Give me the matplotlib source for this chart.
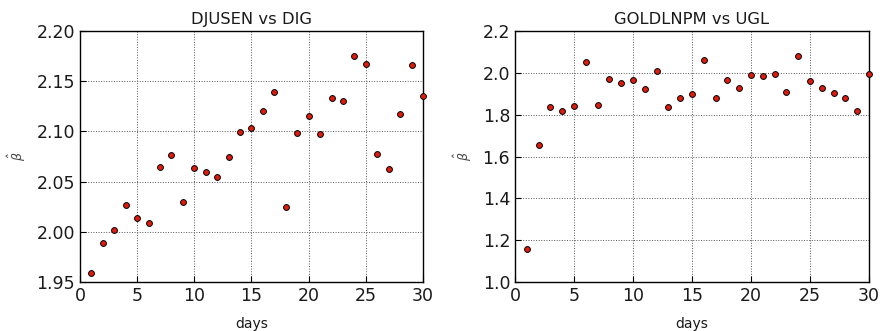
import matplotlib
matplotlib.use('Agg')
import matplotlib.pyplot as plt

days = list(range(1, 31))

# DJUSEN vs DIG
beta_djusen = [1.959, 1.989, 2.002, 2.027, 2.014, 2.009, 2.065, 2.077, 2.030, 2.064,
               2.060, 2.055, 2.075, 2.099, 2.103, 2.120, 2.139, 2.025, 2.098, 2.115,
               2.097, 2.133, 2.130, 2.175, 2.167, 2.078, 2.063, 2.117, 2.166, 2.135]

# GOLDLNPM vs UGL
beta_gold = [1.160, 1.654, 1.835, 1.817, 1.843, 2.052, 1.849, 1.970, 1.953, 1.964,
             1.921, 2.007, 1.839, 1.881, 1.900, 2.063, 1.882, 1.964, 1.927, 1.991,
             1.983, 1.997, 1.910, 2.079, 1.962, 1.926, 1.903, 1.882, 1.817, 1.997]

titles = ['DJUSEN vs DIG', 'GOLDLNPM vs UGL']
ylims = [(1.95, 2.20), (1.0, 2.2)]
yticks = [[1.95, 2.00, 2.05, 2.10, 2.15, 2.20], [1.0, 1.2, 1.4, 1.6, 1.8, 2.0, 2.2]]
ytick_labels = [['1.95', '2.00', '2.05', '2.10', '2.15', '2.20'],
                ['1.0', '1.2', '1.4', '1.6', '1.8', '2.0', '2.2']]

fig = plt.figure(figsize=(8.84, 3.31), dpi=100)
ax1 = fig.add_axes([0.0905, 0.148, 0.388, 0.758])
ax2 = fig.add_axes([0.5826, 0.148, 0.4004, 0.758])

for ax, vals, title, yl, yt, ytl in zip([ax1, ax2], [beta_djusen, beta_gold], titles,
                                        ylims, yticks, ytick_labels):
    ax.plot(days, vals, 'o', color='#dd1c0e', markeredgecolor='black',
            markeredgewidth=0.7, markersize=4.2, clip_on=False, zorder=3)
    ax.set_xlim(0, 30)
    ax.set_ylim(*yl)
    ax.set_xticks([0, 5, 10, 15, 20, 25, 30])
    ax.set_yticks(yt)
    ax.set_yticklabels(ytl)
    ax.grid(True, color='#555555', linestyle=':', linewidth=0.7)
    ax.tick_params(direction='in', labelsize=12.5, labelcolor='#1a1a1a', length=4,
                   color='black', width=0.8)
    ax.set_title(title, fontsize=11.8, pad=5, color='#1a1a1a')
    ax.set_xlabel('days', fontsize=10, labelpad=9, color='#1a1a1a')
    ax.set_ylabel(r'$\hat{\beta}$', fontsize=9, labelpad=6, color='#444444')
    for s in ax.spines.values():
        s.set_linewidth(1.0)

fig.savefig('out.png', dpi=100)
